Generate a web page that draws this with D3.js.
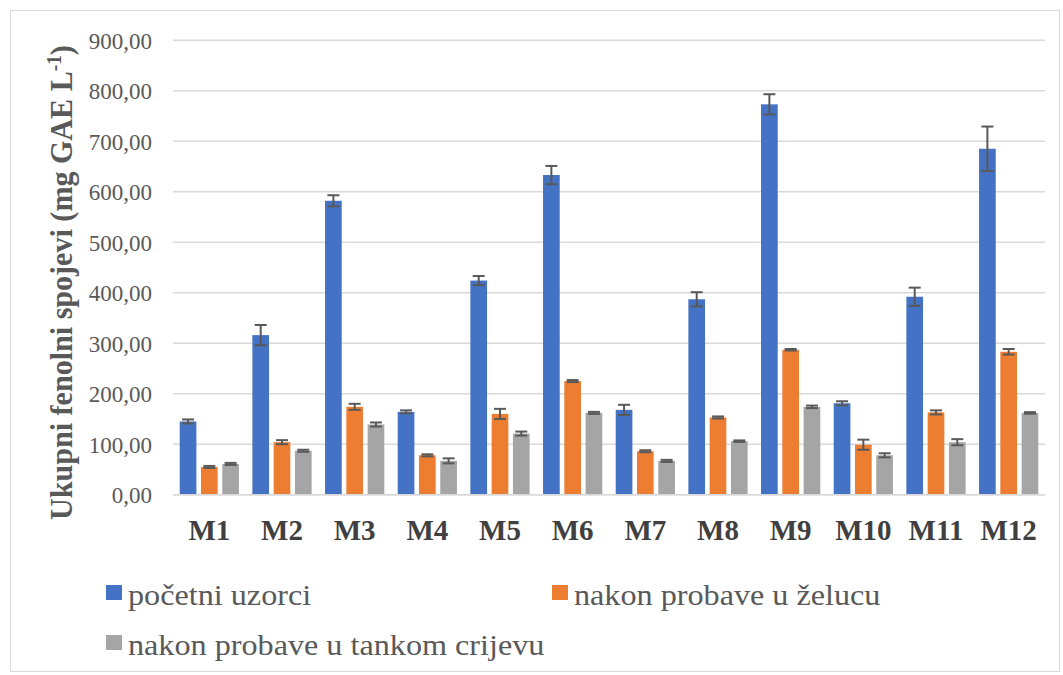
<!DOCTYPE html>
<html><head><meta charset="utf-8">
<script src="https://cdn.jsdelivr.net/npm/d3@7"></script>
<style>html,body{margin:0;padding:0;background:#fff;} text{font-family:"Liberation Serif", serif;}</style>
</head><body>
<svg id="chart" width="1063" height="675"></svg>
<script>
const categories = ["M1","M2","M3","M4","M5","M6","M7","M8","M9","M10","M11","M12"];
const seriesNames = ["početni uzorci","nakon probave u želucu","nakon probave u tankom crijevu"];
const initialValues = [145,316,582,164,424,633,168,387,773,181,392,685];
const initialErrors = [4,20,11,3,9,18,10,14,20,4,18,44];
const stomachValues = [55,104,174,78,160,225,86,153,287,99,163,283];
const stomachErrors = [2,4,6,2,10,2,2,2,1.5,10,4,5.5];
const intestineValues = [61,87,139,67,121,162,67,106,174,78,104,162];
const intestineErrors = [2,2,4,5,4,2,2,1.5,2.5,4,6,1.5];
const yTicks = [0,100,200,300,400,500,600,700,800,900];
const colors = ["#4472C4","#ED7D31","#A5A5A5"];

const series = [
  {name: seriesNames[0], values: initialValues, errors: initialErrors},
  {name: seriesNames[1], values: stomachValues, errors: stomachErrors},
  {name: seriesNames[2], values: intestineValues, errors: intestineErrors}
];

const svg = d3.select("#chart");
const mLeft = 173, mRight = 1045, mTop = 40.2, mBottom = 494.7;
const FONT = "Liberation Serif, serif";

svg.append("rect").attr("x",10.5).attr("y",10.5).attr("width",1049).attr("height",661)
  .attr("fill","#fff").attr("stroke","#d9d9d9").attr("stroke-width",1);

const x0 = d3.scaleBand().domain(categories).range([mLeft,mRight]).paddingInner(0).paddingOuter(0);
const x1 = d3.scaleBand().domain([0,1,2]).range([0,x0.bandwidth()]).paddingInner(0.216).paddingOuter(0.315);
const y = d3.scaleLinear().domain([0,900]).range([mBottom,mTop]);

const fmt = v => d3.format(".2f")(v).replace(".",",");

// gridlines
svg.append("g").selectAll("line").data(yTicks).join("line")
  .attr("x1",mLeft).attr("x2",mRight)
  .attr("y1",d=>y(d)).attr("y2",d=>y(d))
  .attr("stroke","#d9d9d9").attr("stroke-width",1.5);

// y axis labels
const yAxis = d3.axisLeft(y).tickValues(yTicks).tickFormat(fmt).tickSize(0).tickPadding(0);
const yg = svg.append("g").attr("transform",`translate(152,0)`).call(yAxis);
yg.select(".domain").remove();
yg.attr("font-family",null).attr("font-size",null);
yg.selectAll("text").style("font-family",FONT)
  .style("font-size","23px").attr("fill","#595959").attr("dy","0.34em");

// x axis labels
const xAxis = d3.axisBottom(x0).tickSize(0).tickPadding(0);
const xg = svg.append("g").attr("transform",`translate(0,540)`).call(xAxis);
xg.select(".domain").remove();
xg.attr("font-family",null).attr("font-size",null);
xg.selectAll("text").style("font-family",FONT).attr("dy",0)
  .style("font-size","29px").style("font-weight","bold").attr("fill","#404040");

// bars
const groups = svg.append("g").selectAll("g").data(categories).join("g")
  .attr("transform",d=>`translate(${x0(d)},0)`);

series.forEach((s,si)=>{
  groups.append("rect")
    .attr("x",x1(si)).attr("width",x1.bandwidth())
    .attr("y",(d,i)=>y(s.values[i]))
    .attr("height",(d,i)=>y(0)-y(s.values[i]))
    .attr("fill",colors[si]);
});

// error bars
const cap = 6;
series.forEach((s,si)=>{
  const cx = x1(si)+x1.bandwidth()/2;
  const eg = groups.append("g").attr("stroke","#595959").attr("stroke-width",2);
  eg.append("line").attr("x1",cx).attr("x2",cx)
    .attr("y1",(d,i)=>y(s.values[i]+s.errors[i])).attr("y2",(d,i)=>y(s.values[i]-s.errors[i]));
  eg.append("line").attr("x1",cx-cap).attr("x2",cx+cap)
    .attr("y1",(d,i)=>y(s.values[i]+s.errors[i])).attr("y2",(d,i)=>y(s.values[i]+s.errors[i]));
  eg.append("line").attr("x1",cx-cap).attr("x2",cx+cap)
    .attr("y1",(d,i)=>y(s.values[i]-s.errors[i])).attr("y2",(d,i)=>y(s.values[i]-s.errors[i]));
});

// baseline
svg.append("line").attr("x1",mLeft).attr("x2",mRight).attr("y1",y(0)).attr("y2",y(0))
  .attr("stroke","#d9d9d9").attr("stroke-width",1.5);

// y title
const titleLen = 475, titleCx = 72, titleCy = 282.5;
const yt = svg.append("text")
  .attr("text-anchor","middle")
  .style("font-family",FONT)
  .style("font-size","31px").style("font-weight","bold").attr("fill","#595959");
yt.append("tspan").text("Ukupni fenolni spojevi (mg GAE L");
yt.append("tspan").attr("dy",-11).style("font-size","20px").text("-1");
yt.append("tspan").attr("dy",11).text(")");
const tl = yt.node().getBBox().width;
yt.attr("transform",`translate(${titleCx},${titleCy}) rotate(-90) scale(${titleLen/tl},1)`);

// legend
const legendPos = [[106,605],[552,605],[106,655]];
const lg = svg.append("g").selectAll("g").data(series).join("g")
  .attr("transform",(d,i)=>`translate(${legendPos[i][0]},${legendPos[i][1]})`);
lg.append("rect").attr("x",0).attr("y",-20).attr("width",16).attr("height",15)
  .attr("fill",(d,i)=>colors[i]);
lg.append("text").attr("transform","translate(22,0) scale(1.11,1)")
  .style("font-family",FONT)
  .style("font-size","29px").attr("fill","#595959").text(d=>d.name);
</script>
</body></html>
